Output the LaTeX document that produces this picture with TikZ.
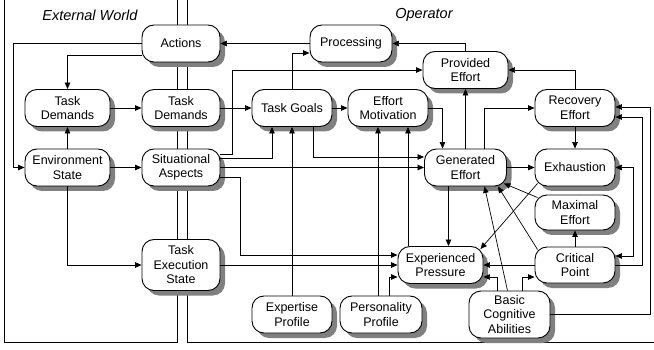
\documentclass[tikz,border=0pt]{standalone}
\usepackage{fontspec}
\setmainfont{Liberation Sans}
\usetikzlibrary{arrows.meta}

\begin{document}
\begin{tikzpicture}[
    x=1pt, y=-1pt,
    block/.style={draw, line width=0.9pt, fill=white, rounded corners=12pt,
                  minimum width=80pt, minimum height=37pt, align=center,
                  inner sep=1pt, font=\fontsize{12.5}{14.5}\selectfont},
    tallblock/.style={block, minimum height=51pt},
    boxshadow/.style={draw=none, fill=gray, rounded corners=12pt,
                      minimum width=80pt, minimum height=37pt},
    link/.style={line width=0.7pt, -{Triangle[length=6.5pt,width=5.5pt]}},
    twoway/.style={line width=0.7pt,
                   {Triangle[length=6.5pt,width=5.5pt]}-{Triangle[length=6.5pt,width=5.5pt]}},
    frame/.style={line width=0.8pt},
    worldlab/.style={font=\fontsize{14.5}{16}\selectfont\itshape}
  ]
  \useasboundingbox (0,0) rectangle (654,350);

  % Frames of the two worlds
  \draw[frame] (4,0) -- (4,342) -- (177,342) -- (177,0);
  \draw[frame] (187,0) -- (187,342) -- (654,342);
  \node[worldlab] (extlab) at (90,15) {External World};
  \node[worldlab] (oplab) at (424,15) {Operator};

  % Shadows, placed under the boxes
  \foreach \b/\x/\y/\w/\h in {actS/181/43.5/78/37, tdlS/67.5/108/85/37,
      tdrS/181/108/78/37, envS/67.5/167.5/85/37, sitS/181/167.5/78/37,
      texS/181/265/78/51, procS/351/43.5/82/37, goalsS/292/108/80/37,
      motivS/388/108/80/37, provS/465.5/70/85/37, genS/465.5/167.5/82/37,
      recovS/575/108/80/37, exhS/575/167.5/80/37, maxeS/575/212.5/80/35,
      critS/575/265/80/36, pressS/440.5/265/85/37, expertS/292/314.5/80/37,
      personS/381/314.5/82/37, bcaS/509.5/314.5/81/47}
    \node[boxshadow, minimum width=\w pt, minimum height=\h pt] (\b) at (\x+5,\y+5) {};

  % External world and interface column
  \node[block, minimum width=78pt] (act) at (181,43.5) {Actions};
  \node[block, minimum width=85pt] (tdl) at (67.5,108) {Task\\Demands};
  \node[block, minimum width=78pt] (tdr) at (181,108) {Task\\Demands};
  \node[block, minimum width=85pt] (env) at (67.5,167.5) {Environment\\State};
  \node[block, minimum width=78pt] (sit) at (181,167.5) {Situational\\Aspects};
  \node[tallblock, minimum width=78pt] (tex) at (181,265) {Task\\Execution\\State};

  % Operator
  \node[block, minimum width=82pt] (proc) at (351,43.5) {Processing};
  \node[block] (goals) at (292,108) {Task Goals};
  \node[block] (motiv) at (388,108) {Effort\\Motivation};
  \node[block, minimum width=85pt] (prov) at (465.5,70) {Provided\\Effort};
  \node[block, minimum width=82pt] (gen) at (465.5,167.5) {Generated\\Effort};
  \node[block] (recov) at (575,108) {Recovery\\Effort};
  \node[block] (exh) at (575,167.5) {Exhaustion};
  \node[block, minimum height=35pt] (maxe) at (575,212.5) {Maximal\\Effort};
  \node[block, minimum height=36pt] (crit) at (575,265) {Critical\\Point};
  \node[block, minimum width=85pt] (press) at (440.5,265) {Experienced\\Pressure};
  \node[block] (expert) at (292,314.5) {Expertise\\Profile};
  \node[block, minimum width=82pt] (person) at (381,314.5) {Personality\\Profile};
  \node[block, minimum width=81pt, minimum height=47pt] (bca) at (509.5,314.5) {Basic\\Cognitive\\Abilities};

  % External world links
  \draw[link] (act.west |- 0,55) -| (tdl.north);
  \draw[link] (act.west) -| ([xshift=-11pt]env.west) -- (env.west);
  \draw[link] (tdl.east) -- (tdr.west);
  \draw[link] (env.north) -- (tdl.south);
  \draw[link] (env.east) -- (sit.west);
  \draw[link] (env.south) |- (tex.west);
  \draw[link] (proc.west) -- (act.east);

  % Into the operator
  \draw[link] (tdr.east) -- (goals.west);
  \draw[link] (sit.east |- 0,154) -- (232,154) |- (prov.west);
  \draw[link] (sit.east |- 0,158) -| ([xshift=-20pt]goals.south);
  \draw[link] (sit.east) -- (gen.west);
  \draw[link] (sit.east |- 0,177) -| (240,255) -- (press.west |- 0,255);
  \draw[link] (tex.east) -- (tex.east -| press.west);

  % Goals and motivation
  \draw[link] (goals.north) |- (proc.west |- 0,53);
  \draw[link] (goals.east) -- (motiv.west);
  \draw[link] ([xshift=21pt]goals.south) |- (gen.west |- 0,157);
  \draw[link] (expert.north) -- (goals.south);
  \draw[link] ([xshift=-3pt]person.north) -- ([xshift=-3pt]person.north |- motiv.south);
  \draw[link] ([xshift=8pt]person.north) |- (press.west |- 0,277);
  \draw[link] ([xshift=-32.5pt]press.north) -- ([xshift=-32.5pt]press.north |- motiv.south);
  \draw[link] (motiv.east) -| ([xshift=-23pt]gen.north);

  % Effort
  \draw[link] (prov.north) |- (proc.east);
  \draw[link] (gen.north) -- (prov.south);
  \draw[link] ([xshift=19pt]gen.north) |- (recov.west);
  \draw[link] (recov.north) |- (prov.east);
  \draw[link] (recov.south) -- (exh.north);
  \draw[link] (gen.east) -- (exh.west);
  \draw[link] ([xshift=-17pt]gen.south) -- ([xshift=-17pt]gen.south |- press.north);
  \draw[link] ([shift={(3,-3)}]exh.south west) -- ([shift={(-3,3)}]press.north east);
  \draw[link] ([shift={(3,3)}]maxe.north west) -- ([shift={(-3,-3)}]gen.south east);
  \draw[link] ([shift={(3,3)}]crit.north west) -- ([shift={(-9,0)}]gen.south east);
  \draw[link] ([shift={(-2,0)}]bca.north) -- ([shift={(19,0)}]gen.south);
  \draw[link] (crit.north) -- (maxe.south);
  \draw[link] (crit.west) -- (press.east);
  \draw[link] ([xshift=-12.5pt]bca.north) |- (press.east |- 0,277);
  \draw[link] ([xshift=12.5pt]bca.north) |- (crit.west |- 0,277);

  % Right-hand loops
  \draw[link] (bca.east) -| (650,107) -- (recov.east |- 0,107);
  \draw[link] (crit.east) -| (642,117) -- (recov.east |- 0,117);
  \draw[twoway] (exh.east) -| (633,256) -- (crit.east |- 0,256);

\end{tikzpicture}
\end{document}
